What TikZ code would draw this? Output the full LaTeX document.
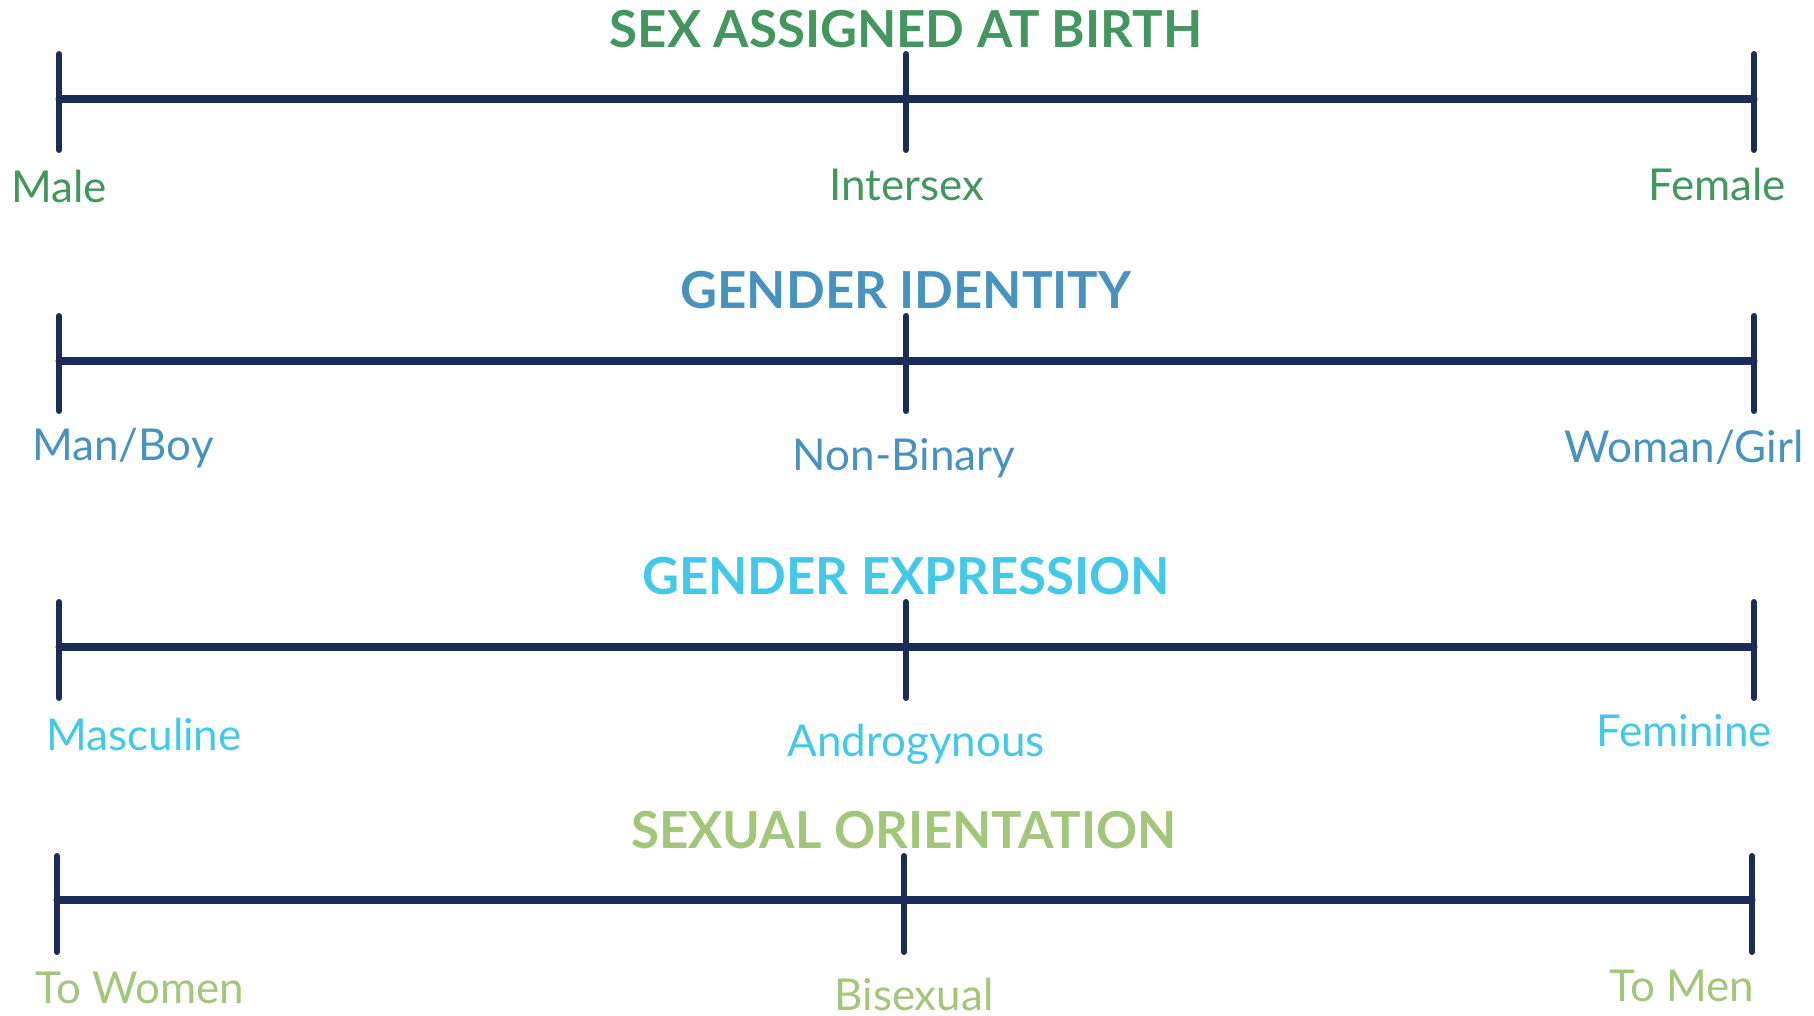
\documentclass[tikz,border=0pt]{standalone}
\usepackage{fontspec}
\setmainfont{Lato}
\usepackage{tikz}

\definecolor{barblue}{HTML}{1B2D56}
\definecolor{sexgreen}{HTML}{43965E}
\definecolor{idblue}{HTML}{4893BE}
\definecolor{excyan}{HTML}{44C8E8}
\definecolor{orgreen}{HTML}{A2C67A}

\begin{document}
\begin{tikzpicture}[x=0.01cm,y=-0.01cm,
  bar/.style={draw=barblue,line width=2pt,line cap=round},
  tick/.style={draw=barblue,line width=1.7pt,line cap=round},
  heading/.style={font=\fontsize{14.5}{16}\selectfont\bfseries,inner sep=0pt},
  end/.style={font=\fontsize{12.5}{14}\selectfont,inner sep=0pt}]
\useasboundingbox (0,0) rectangle (1814,1016);

% sex assigned at birth
\node[heading,text=sexgreen] (sex) at (906,29) {SEX ASSIGNED AT BIRTH};
\coordinate (sexL) at (59,99);
\coordinate (sexM) at (906,99);
\coordinate (sexR) at (1754,99);
\draw[bar] (sexL) -- (sexR);
\draw[tick] (sexL) ++(0,-45) -- ++(0,96);
\draw[tick] (sexM) ++(0,-45) -- ++(0,96);
\draw[tick] (sexR) ++(0,-45) -- ++(0,96);
\node[end,text=sexgreen] (male) at (59,186) {Male};
\node[end,text=sexgreen] (intersex) at (907,185) {Intersex};
\node[end,text=sexgreen] (female) at (1717,184) {Female};

% gender identity
\node[heading,text=idblue] (identity) at (906,290) {GENDER IDENTITY};
\coordinate (idL) at (59,361);
\coordinate (idM) at (906,361);
\coordinate (idR) at (1754,361);
\draw[bar] (idL) -- (idR);
\draw[tick] (idL) ++(0,-45) -- ++(0,95);
\draw[tick] (idM) ++(0,-45) -- ++(0,95);
\draw[tick] (idR) ++(0,-45) -- ++(0,95);
\node[end,text=idblue] (man) at (123,448) {Man/Boy};
\node[end,text=idblue] (nonbinary) at (904,458) {Non-Binary};
\node[end,text=idblue] (woman) at (1684,447) {Woman/Girl};

% gender expression
\node[heading,text=excyan] (expression) at (906,576) {GENDER EXPRESSION};
\coordinate (exL) at (59,647);
\coordinate (exM) at (906,647);
\coordinate (exR) at (1754,647);
\draw[bar] (exL) -- (exR);
\draw[tick] (exL) ++(0,-45) -- ++(0,96);
\draw[tick] (exM) ++(0,-45) -- ++(0,96);
\draw[tick] (exR) ++(0,-45) -- ++(0,96);
\node[end,text=excyan] (masc) at (144,734) {Masculine};
\node[end,text=excyan] (andro) at (916,744) {Androgynous};
\node[end,text=excyan] (fem) at (1684,731) {Feminine};

% sexual orientation
\node[heading,text=orgreen] (orientation) at (904,830) {SEXUAL ORIENTATION};
\coordinate (orL) at (57,900);
\coordinate (orM) at (904,900);
\coordinate (orR) at (1752,900);
\draw[bar] (orL) -- (orR);
\draw[tick] (orL) ++(0,-44) -- ++(0,96);
\draw[tick] (orM) ++(0,-44) -- ++(0,96);
\draw[tick] (orR) ++(0,-44) -- ++(0,96);
\node[end,text=orgreen] (towomen) at (140,988) {To Women};
\node[end,text=orgreen] (bi) at (914,994) {Bisexual};
\node[end,text=orgreen] (tomen) at (1682,986) {To Men};
\end{tikzpicture}
\end{document}
